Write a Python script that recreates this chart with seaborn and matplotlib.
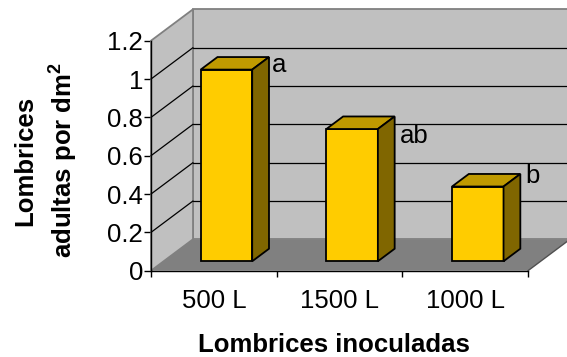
import matplotlib
matplotlib.use("Agg")
import matplotlib.pyplot as plt
import pandas as pd
import seaborn as sns
from matplotlib.patches import Polygon
from matplotlib.lines import Line2D
from matplotlib.transforms import IdentityTransform, ScaledTranslation

categories = ["500 L", "1500 L", "1000 L"]
values = [1.0, 0.69, 0.39]
letters = ["a", "ab", "b"]
y_ticks = [0, 0.2, 0.4, 0.6, 0.8, 1.0, 1.2]
y_tick_labels = ["0", "0.2", "0.4", "0.6", "0.8", "1", "1.2"]

# pixel offsets of the significance letters from each bar's top-right front corner
letter_offsets = [(19.5, -2.5), (22.5, -13.5), (22.0, 4.0)]

sns.set_style("white")
plt.rcParams["font.family"] = ["Liberation Sans", "DejaVu Sans"]
plt.rcParams["text.color"] = "black"
plt.rcParams["axes.labelcolor"] = "black"
plt.rcParams["xtick.color"] = "black"
plt.rcParams["ytick.color"] = "black"
plt.rcParams["mathtext.fontset"] = "custom"
plt.rcParams["mathtext.rm"] = "Liberation Sans"
plt.rcParams["mathtext.bf"] = "Liberation Sans:bold"

W, H, DPI = 567, 357, 100
fig = plt.figure(figsize=(W / DPI, H / DPI), dpi=DPI)
ax = fig.add_axes([151 / W, 86.3 / H, 377 / W, 230 / H])
ax.set_facecolor("none")

df = pd.DataFrame({"tratamiento": categories, "valor": values})
sns.barplot(data=df, x="tratamiento", y="valor", width=0.41, color="#FFCC00",
            saturation=1, edgecolor="black", linewidth=1.3, ax=ax, zorder=3)
bars = list(ax.patches)

ax.set_xlim(-0.5, 2.5)
ax.set_ylim(0, 1.2)

# depth of the 3-D box (pixels) and the depth slab occupied by the bars
DX, DY = 42.0, 31.4
D0, D1 = 0.3, 0.7
ident = IdentityTransform()


def proj(x, y, d):
    px, py = ax.transData.transform((x, y))
    return (px + d * DX, py + d * DY)


def face(pts, fc, ec, lw, z):
    ax.add_patch(Polygon(pts, closed=True, facecolor=fc, edgecolor=ec,
                         linewidth=lw, transform=ident, zorder=z, clip_on=False))


def seg(p, q, color, lw, z):
    ax.add_line(Line2D([p[0], q[0]], [p[1], q[1]], color=color, linewidth=lw,
                       transform=ident, zorder=z, clip_on=False))


x_lo, x_hi = ax.get_xlim()
y_top = ax.get_ylim()[1]
wall = "#C0C0C0"
edge = "#808080"

# back wall and left wall
face([proj(x_lo, 0, 1), proj(x_hi, 0, 1), proj(x_hi, y_top, 1), proj(x_lo, y_top, 1)],
     wall, edge, 1.3, 0.5)
face([proj(x_lo, 0, 0), proj(x_lo, 0, 1), proj(x_lo, y_top, 1), proj(x_lo, y_top, 0)],
     wall, edge, 1.3, 0.6)

# gridlines on the walls
for t in y_ticks[1:-1]:
    seg(proj(x_lo, t, 1), proj(x_hi, t, 1), "black", 0.9, 0.7)
    seg(proj(x_lo, t, 0), proj(x_lo, t, 1), "black", 0.9, 0.7)

# floor
face([proj(x_lo, 0, 0), proj(x_hi, 0, 0), proj(x_hi, 0, 1), proj(x_lo, 0, 1)],
     "#808080", "none", 0, 0.8)
seg(proj(x_hi, 0, 0), proj(x_hi, 0, 1), "#505050", 1.0, 0.9)

# 3-D bars: shifted front face plus top and side faces
shift = ScaledTranslation(D0 * DX / DPI, D0 * DY / DPI, fig.dpi_scale_trans)
for bar, letter, (ox, oy) in zip(bars, letters, letter_offsets):
    x0, w, h = bar.get_x(), bar.get_width(), bar.get_height()
    x1 = x0 + w
    bar.set_transform(ax.transData + shift)
    bar.set_clip_on(False)
    face([proj(x0, h, D0), proj(x1, h, D0), proj(x1, h, D1), proj(x0, h, D1)],
         "#C09A00", "black", 1.3, 3.1)
    face([proj(x1, 0, D0), proj(x1, h, D0), proj(x1, h, D1), proj(x1, 0, D1)],
         "#806600", "black", 1.3, 3.1)
    cx, cy = proj(x1, h, D0)
    ax.text(cx + ox, cy + oy, letter, transform=ident, fontsize=18.5,
            ha="left", va="baseline", zorder=4, color="black")

# axes: left and bottom spines only
for side in ["top", "right"]:
    ax.spines[side].set_visible(False)
for side in ["left", "bottom"]:
    ax.spines[side].set_color("black")
    ax.spines[side].set_linewidth(1.0)
    ax.spines[side].set_zorder(2.5)

ax.set_yticks(y_ticks)
ax.set_yticklabels(y_tick_labels)
ax.tick_params(axis="y", which="major", direction="out", length=5, width=1.0,
               pad=0.8, labelsize=18.5, color="black", labelcolor="black",
               left=True)

ax.set_xticks([x_lo + i for i in range(len(categories) + 1)])
ax.set_xticklabels([])
ax.set_xticks(range(len(categories)), minor=True)
ax.set_xticklabels(categories, minor=True)
ax.tick_params(axis="x", which="major", direction="out", length=4.5, width=1.0,
               color="black", bottom=True)
ax.tick_params(axis="x", which="minor", length=0, pad=13, labelsize=18.5,
               labelcolor="black")

ax.set_xlabel("")
ax.set_ylabel("")

fig.text(334 / W, 1 - 351.7 / H, "Lombrices inoculadas", ha="center",
         va="baseline", fontsize=18.5, fontweight="bold", color="black")
fig.text(32 / W, 1 - 161 / H, "Lombrices", rotation=90, rotation_mode="anchor",
         ha="center", va="baseline", fontsize=18.5, fontweight="bold",
         color="black")
fig.text(72 / W, 1 - 160 / H, r"adultas por dm$^{\mathbf{2}}$", rotation=90,
         rotation_mode="anchor", ha="center", va="baseline", fontsize=18.5,
         fontweight="bold", color="black")

fig.savefig("out.png", dpi=DPI)
